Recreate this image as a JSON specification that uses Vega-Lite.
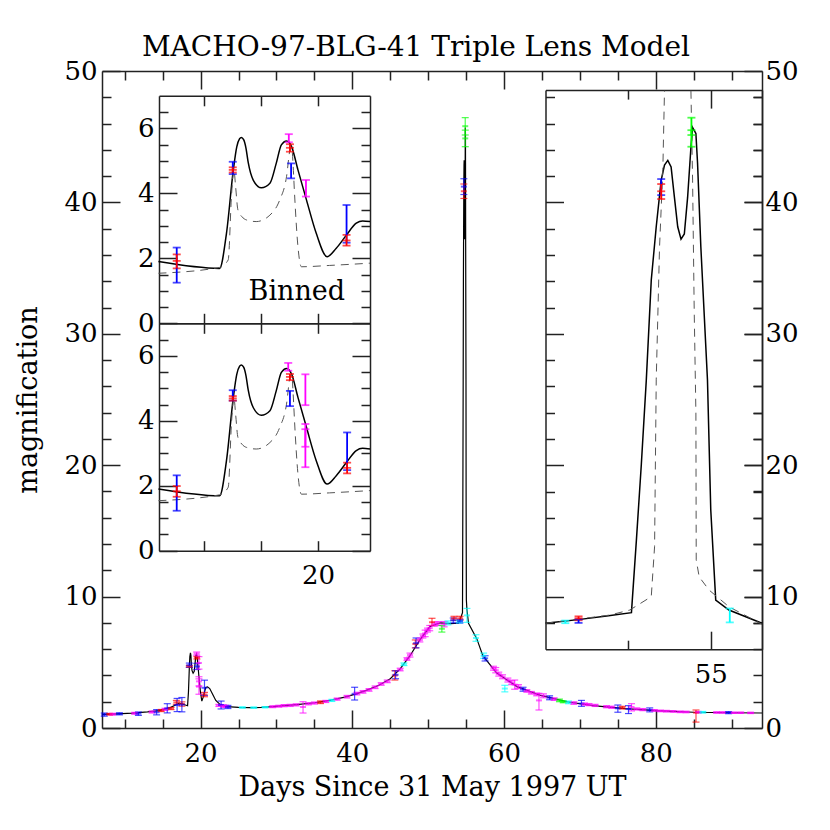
{
"$schema":"https://vega.github.io/schema/vega-lite/v6.json",
"width":660,"height":657,
"autosize":{"type":"none"},
"padding":{"left":102,"top":71,"right":68,"bottom":102},
"background":"white",
"title":{"text":"MACHO-97-BLG-41 Triple Lens Model","font":"DejaVu Serif","fontSize":28,"fontWeight":"normal","color":"#000","offset":-4,"dx":-16},
"config":{"view":{"stroke":null},"axis":{"labelFont":"DejaVu Serif","labelFontSize":26,"labelColor":"#000","titleFont":"DejaVu Serif","titleFontSize":27,"titleFontWeight":"normal","titleColor":"#000","domainColor":"#222","tickColor":"#222","domainWidth":1.5,"tickWidth":1.5,"grid":false,"labelOverlap":false,"labelFlush":false}},
"datasets":{
"model":[{"d":7,"m":1.03},{"d":9,"m":1.08},{"d":11,"m":1.13},{"d":13,"m":1.22},{"d":14.5,"m":1.32},{"d":16,"m":1.55},{"d":17.21,"m":1.9},{"d":18.28,"m":1.69},{"d":18.4,"m":2.77},{"d":18.52,"m":4.72},{"d":18.58,"m":5.43},{"d":18.66,"m":5.72},{"d":18.72,"m":5.54},{"d":18.78,"m":4.82},{"d":18.87,"m":4.36},{"d":19.01,"m":4.17},{"d":19.16,"m":4.31},{"d":19.27,"m":4.92},{"d":19.36,"m":5.49},{"d":19.45,"m":5.61},{"d":19.54,"m":5.43},{"d":19.65,"m":4.72},{"d":19.8,"m":3.79},{"d":19.97,"m":2.77},{"d":20.16,"m":2.05},{"d":20.32,"m":2.31},{"d":20.5,"m":2.72},{"d":20.67,"m":3.08},{"d":20.91,"m":3.13},{"d":21.2,"m":3.0},{"d":21.6,"m":2.55},{"d":22.0,"m":2.1},{"d":22.6,"m":1.78},{"d":23.5,"m":1.63},{"d":25,"m":1.57},{"d":26.5,"m":1.55},{"d":28,"m":1.57},{"d":29.5,"m":1.62},{"d":31,"m":1.7},{"d":33,"m":1.8},{"d":35,"m":1.92},{"d":37,"m":2.1},{"d":39,"m":2.35},{"d":40.5,"m":2.6},{"d":42,"m":2.9},{"d":43.5,"m":3.25},{"d":45,"m":3.75},{"d":46.3,"m":4.5},{"d":47.6,"m":5.5},{"d":48.9,"m":6.7},{"d":50.2,"m":7.7},{"d":51.0,"m":7.9},{"d":51.6,"m":8.0},{"d":52.9,"m":7.95},{"d":53.5,"m":7.96},{"d":54.0,"m":7.97},{"d":54.21,"m":8.27},{"d":54.37,"m":8.52},{"d":54.52,"m":8.78},{"d":54.55,"m":14.3},{"d":54.58,"m":20.1},{"d":54.61,"m":26.5},{"d":54.64,"m":34.1},{"d":54.67,"m":38.15},{"d":54.7,"m":41.7},{"d":54.72,"m":42.85},{"d":54.74,"m":43.2},{"d":54.76,"m":42.7},{"d":54.78,"m":40.4},{"d":54.8,"m":38.15},{"d":54.82,"m":37.2},{"d":54.84,"m":37.6},{"d":54.86,"m":40.4},{"d":54.88,"m":44.2},{"d":54.89,"m":45.7},{"d":54.91,"m":45.25},{"d":54.92,"m":43.0},{"d":54.94,"m":36.6},{"d":54.98,"m":26.5},{"d":55.0,"m":16.6},{"d":55.03,"m":9.74},{"d":55.11,"m":8.98},{"d":55.31,"m":7.97},{"d":56.4,"m":6.8},{"d":57.2,"m":5.5},{"d":59.0,"m":4.2},{"d":61.7,"m":3.15},{"d":64.7,"m":2.5},{"d":68.3,"m":2.0},{"d":71.7,"m":1.7},{"d":76,"m":1.47},{"d":80,"m":1.32},{"d":85,"m":1.2},{"d":90,"m":1.16},{"d":94,"m":1.14}],
"pts":[{"d":7.3,"m":1.02,"lo":0.9,"hi":1.14,"c":"blue"},{"d":8.0,"m":1.05,"lo":0.99,"hi":1.11,"c":"red"},{"d":8.4,"m":1.05,"lo":0.98,"hi":1.12,"c":"magenta"},{"d":9.3,"m":1.08,"lo":1.0,"hi":1.16,"c":"blue"},{"d":11.3,"m":1.12,"lo":1.05,"hi":1.19,"c":"magenta"},{"d":11.8,"m":1.09,"lo":0.96,"hi":1.22,"c":"blue"},{"d":13.6,"m":1.22,"lo":1.14,"hi":1.3,"c":"magenta"},{"d":14.2,"m":1.2,"lo":1.0,"hi":1.4,"c":"blue"},{"d":14.8,"m":1.33,"lo":1.25,"hi":1.41,"c":"red"},{"d":15.3,"m":1.42,"lo":1.34,"hi":1.5,"c":"magenta"},{"d":15.6,"m":1.5,"lo":1.15,"hi":1.85,"c":"blue"},{"d":16.1,"m":1.48,"lo":1.4,"hi":1.56,"c":"red"},{"d":16.8,"m":1.95,"lo":1.8,"hi":2.1,"c":"red"},{"d":16.9,"m":1.75,"lo":1.25,"hi":2.25,"c":"blue"},{"d":17.53,"m":1.83,"lo":1.66,"hi":1.99,"c":"red"},{"d":17.53,"m":1.78,"lo":1.23,"hi":2.32,"c":"blue"},{"d":18.51,"m":4.69,"lo":4.62,"hi":4.76,"c":"red"},{"d":18.51,"m":4.78,"lo":4.62,"hi":4.94,"c":"blue"},{"d":19.48,"m":5.66,"lo":5.54,"hi":5.78,"c":"magenta"},{"d":19.51,"m":5.35,"lo":5.25,"hi":5.44,"c":"red"},{"d":19.51,"m":4.68,"lo":4.45,"hi":4.92,"c":"blue"},{"d":19.78,"m":4.95,"lo":4.48,"hi":5.43,"c":"magenta"},{"d":19.78,"m":3.55,"lo":3.2,"hi":3.9,"c":"magenta"},{"d":19.78,"m":3.15,"lo":2.57,"hi":3.74,"c":"magenta"},{"d":20.51,"m":3.06,"lo":2.48,"hi":3.64,"c":"blue"},{"d":20.51,"m":2.55,"lo":2.38,"hi":2.71,"c":"red"},{"d":22.4,"m":1.72,"lo":1.64,"hi":1.8,"c":"magenta"},{"d":22.7,"m":1.75,"lo":1.45,"hi":2.05,"c":"blue"},{"d":23.0,"m":1.68,"lo":1.6,"hi":1.76,"c":"magenta"},{"d":23.3,"m":1.65,"lo":1.57,"hi":1.73,"c":"magenta"},{"d":23.6,"m":1.6,"lo":1.48,"hi":1.72,"c":"blue"},{"d":25.5,"m":1.56,"lo":1.52,"hi":1.6,"c":"cyan"},{"d":27.0,"m":1.55,"lo":1.51,"hi":1.59,"c":"cyan"},{"d":28.5,"m":1.58,"lo":1.54,"hi":1.62,"c":"cyan"},{"d":29.5,"m":1.62,"lo":1.55,"hi":1.69,"c":"magenta"},{"d":30.3,"m":1.66,"lo":1.59,"hi":1.73,"c":"magenta"},{"d":31.0,"m":1.7,"lo":1.62,"hi":1.78,"c":"magenta"},{"d":31.8,"m":1.72,"lo":1.64,"hi":1.8,"c":"magenta"},{"d":32.6,"m":1.76,"lo":1.68,"hi":1.84,"c":"magenta"},{"d":33.5,"m":1.6,"lo":1.14,"hi":2.0,"c":"magenta"},{"d":34.2,"m":1.84,"lo":1.76,"hi":1.92,"c":"magenta"},{"d":35.0,"m":1.9,"lo":1.82,"hi":1.98,"c":"magenta"},{"d":35.8,"m":1.96,"lo":1.86,"hi":2.06,"c":"red"},{"d":36.5,"m":2.02,"lo":1.94,"hi":2.1,"c":"magenta"},{"d":37.3,"m":2.1,"lo":2.02,"hi":2.18,"c":"cyan"},{"d":38.0,"m":2.2,"lo":2.12,"hi":2.28,"c":"magenta"},{"d":39.3,"m":2.38,"lo":2.28,"hi":2.48,"c":"magenta"},{"d":40.3,"m":2.6,"lo":2.13,"hi":3.1,"c":"blue"},{"d":40.6,"m":2.62,"lo":2.52,"hi":2.72,"c":"magenta"},{"d":41.4,"m":2.75,"lo":2.65,"hi":2.85,"c":"magenta"},{"d":42.2,"m":2.9,"lo":2.8,"hi":3.0,"c":"magenta"},{"d":43.0,"m":3.1,"lo":3.0,"hi":3.2,"c":"magenta"},{"d":43.8,"m":3.35,"lo":3.25,"hi":3.45,"c":"magenta"},{"d":44.6,"m":3.55,"lo":3.45,"hi":3.65,"c":"magenta"},{"d":45.6,"m":4.0,"lo":3.65,"hi":4.36,"c":"red"},{"d":45.7,"m":4.05,"lo":3.75,"hi":4.35,"c":"blue"},{"d":46.3,"m":4.45,"lo":4.35,"hi":4.55,"c":"magenta"},{"d":46.8,"m":4.85,"lo":4.75,"hi":4.95,"c":"cyan"},{"d":47.2,"m":5.25,"lo":5.15,"hi":5.35,"c":"magenta"},{"d":47.6,"m":5.55,"lo":5.4,"hi":5.7,"c":"magenta"},{"d":48.3,"m":6.4,"lo":6.1,"hi":6.7,"c":"red"},{"d":48.4,"m":6.45,"lo":6.1,"hi":6.85,"c":"blue"},{"d":48.9,"m":6.7,"lo":6.55,"hi":6.85,"c":"magenta"},{"d":49.3,"m":7.0,"lo":6.85,"hi":7.15,"c":"magenta"},{"d":49.6,"m":7.2,"lo":6.95,"hi":7.45,"c":"magenta"},{"d":49.9,"m":7.45,"lo":7.3,"hi":7.6,"c":"magenta"},{"d":50.2,"m":7.6,"lo":7.4,"hi":7.8,"c":"magenta"},{"d":50.5,"m":8.05,"lo":7.8,"hi":8.35,"c":"red"},{"d":50.8,"m":7.9,"lo":7.75,"hi":8.05,"c":"magenta"},{"d":51.3,"m":7.95,"lo":7.8,"hi":8.1,"c":"magenta"},{"d":51.8,"m":7.55,"lo":7.3,"hi":7.8,"c":"green"},{"d":52.1,"m":7.9,"lo":7.7,"hi":8.1,"c":"magenta"},{"d":52.6,"m":8.0,"lo":7.85,"hi":8.15,"c":"cyan"},{"d":53.3,"m":8.2,"lo":8.0,"hi":8.37,"c":"blue"},{"d":53.4,"m":8.35,"lo":8.2,"hi":8.5,"c":"red"},{"d":54.12,"m":8.08,"lo":7.98,"hi":8.18,"c":"cyan"},{"d":54.2,"m":8.35,"lo":8.2,"hi":8.5,"c":"red"},{"d":54.2,"m":8.13,"lo":8.0,"hi":8.27,"c":"blue"},{"d":54.7,"m":40.85,"lo":40.3,"hi":41.4,"c":"red"},{"d":54.7,"m":41.2,"lo":40.6,"hi":41.8,"c":"blue"},{"d":54.88,"m":45.8,"lo":45.13,"hi":46.45,"c":"green"},{"d":54.885,"m":44.87,"lo":44.24,"hi":45.5,"c":"green"},{"d":55.11,"m":8.57,"lo":8.04,"hi":9.1,"c":"cyan"},{"d":56.3,"m":6.85,"lo":6.6,"hi":7.1,"c":"cyan"},{"d":57.3,"m":5.5,"lo":5.3,"hi":5.7,"c":"cyan"},{"d":57.5,"m":5.3,"lo":5.1,"hi":5.5,"c":"blue"},{"d":58.6,"m":4.55,"lo":4.4,"hi":4.7,"c":"magenta"},{"d":58.9,"m":4.4,"lo":4.2,"hi":4.6,"c":"magenta"},{"d":59.3,"m":4.1,"lo":3.95,"hi":4.25,"c":"magenta"},{"d":59.8,"m":3.9,"lo":3.75,"hi":4.05,"c":"magenta"},{"d":60.1,"m":3.0,"lo":2.75,"hi":3.25,"c":"cyan"},{"d":60.5,"m":3.65,"lo":3.5,"hi":3.8,"c":"magenta"},{"d":61.0,"m":3.45,"lo":3.3,"hi":3.6,"c":"magenta"},{"d":61.4,"m":3.3,"lo":2.95,"hi":3.65,"c":"magenta"},{"d":61.9,"m":3.15,"lo":3.0,"hi":3.3,"c":"magenta"},{"d":62.5,"m":2.95,"lo":2.8,"hi":3.1,"c":"blue"},{"d":63.0,"m":2.82,"lo":2.72,"hi":2.92,"c":"magenta"},{"d":63.6,"m":2.68,"lo":2.58,"hi":2.78,"c":"magenta"},{"d":64.3,"m":2.55,"lo":2.45,"hi":2.65,"c":"magenta"},{"d":64.6,"m":2.1,"lo":1.37,"hi":2.64,"c":"magenta"},{"d":65.2,"m":2.45,"lo":2.3,"hi":2.6,"c":"magenta"},{"d":66.0,"m":2.3,"lo":2.15,"hi":2.45,"c":"blue"},{"d":66.6,"m":2.2,"lo":2.1,"hi":2.3,"c":"magenta"},{"d":67.3,"m":2.1,"lo":2.0,"hi":2.2,"c":"green"},{"d":67.8,"m":2.0,"lo":1.92,"hi":2.08,"c":"green"},{"d":68.5,"m":1.95,"lo":1.85,"hi":2.05,"c":"cyan"},{"d":69.2,"m":1.9,"lo":1.8,"hi":2.0,"c":"magenta"},{"d":70.2,"m":1.86,"lo":1.65,"hi":2.1,"c":"blue"},{"d":70.6,"m":1.82,"lo":1.74,"hi":1.9,"c":"magenta"},{"d":71.2,"m":1.78,"lo":1.7,"hi":1.86,"c":"magenta"},{"d":72.0,"m":1.72,"lo":1.64,"hi":1.8,"c":"magenta"},{"d":73.5,"m":1.62,"lo":1.54,"hi":1.7,"c":"magenta"},{"d":74.2,"m":1.58,"lo":1.5,"hi":1.66,"c":"magenta"},{"d":75.0,"m":1.5,"lo":1.2,"hi":1.75,"c":"blue"},{"d":75.6,"m":1.55,"lo":1.45,"hi":1.65,"c":"red"},{"d":76.4,"m":1.45,"lo":1.1,"hi":1.7,"c":"blue"},{"d":76.8,"m":1.6,"lo":1.3,"hi":1.85,"c":"magenta"},{"d":77.5,"m":1.45,"lo":1.37,"hi":1.53,"c":"magenta"},{"d":78.3,"m":1.4,"lo":1.32,"hi":1.48,"c":"magenta"},{"d":79.2,"m":1.38,"lo":1.23,"hi":1.53,"c":"blue"},{"d":79.8,"m":1.34,"lo":1.28,"hi":1.4,"c":"magenta"},{"d":80.6,"m":1.3,"lo":1.24,"hi":1.36,"c":"magenta"},{"d":81.4,"m":1.28,"lo":1.22,"hi":1.34,"c":"magenta"},{"d":82.3,"m":1.26,"lo":1.2,"hi":1.32,"c":"magenta"},{"d":83.2,"m":1.23,"lo":1.17,"hi":1.29,"c":"magenta"},{"d":84.0,"m":1.22,"lo":1.16,"hi":1.28,"c":"magenta"},{"d":85.3,"m":1.17,"lo":0.45,"hi":1.37,"c":"red"},{"d":85.6,"m":1.2,"lo":1.14,"hi":1.26,"c":"magenta"},{"d":86.2,"m":1.2,"lo":1.14,"hi":1.26,"c":"cyan"},{"d":88.0,"m":1.18,"lo":1.13,"hi":1.23,"c":"magenta"},{"d":88.8,"m":1.18,"lo":1.13,"hi":1.23,"c":"magenta"},{"d":89.6,"m":1.17,"lo":1.09,"hi":1.25,"c":"blue"},{"d":90.3,"m":1.16,"lo":1.11,"hi":1.21,"c":"magenta"},{"d":91.2,"m":1.16,"lo":1.11,"hi":1.21,"c":"magenta"},{"d":92.5,"m":1.15,"lo":1.1,"hi":1.2,"c":"magenta"}],
"zA":[{"d":17.21,"m":1.9,"s":"solid"},{"d":18.28,"m":1.69,"s":"solid"},{"d":18.4,"m":2.77,"s":"solid"},{"d":18.52,"m":4.72,"s":"solid"},{"d":18.58,"m":5.43,"s":"solid"},{"d":18.63,"m":5.68,"s":"solid"},{"d":18.66,"m":5.72,"s":"solid"},{"d":18.7,"m":5.65,"s":"solid"},{"d":18.74,"m":5.4,"s":"solid"},{"d":18.78,"m":4.95,"s":"solid"},{"d":18.87,"m":4.4,"s":"solid"},{"d":19.01,"m":4.17,"s":"solid"},{"d":19.16,"m":4.31,"s":"solid"},{"d":19.27,"m":4.92,"s":"solid"},{"d":19.36,"m":5.49,"s":"solid"},{"d":19.45,"m":5.61,"s":"solid"},{"d":19.54,"m":5.43,"s":"solid"},{"d":19.65,"m":4.72,"s":"solid"},{"d":19.8,"m":3.79,"s":"solid"},{"d":19.97,"m":2.77,"s":"solid"},{"d":20.16,"m":2.05,"s":"solid"},{"d":20.32,"m":2.31,"s":"solid"},{"d":20.5,"m":2.72,"s":"solid"},{"d":20.67,"m":3.08,"s":"solid"},{"d":20.78,"m":3.15,"s":"solid"},{"d":20.91,"m":3.13,"s":"solid"},
{"d":17.21,"m":1.54,"s":"dashed"},{"d":18.28,"m":1.72,"s":"dashed"},{"d":18.43,"m":1.95,"s":"dashed"},{"d":18.49,"m":4.0,"s":"dashed"},{"d":18.53,"m":4.72,"s":"dashed"},{"d":18.56,"m":4.2,"s":"dashed"},{"d":18.6,"m":3.49,"s":"dashed"},{"d":18.67,"m":3.28,"s":"dashed"},{"d":18.75,"m":3.18,"s":"dashed"},{"d":18.92,"m":3.13,"s":"dashed"},{"d":19.16,"m":3.33,"s":"dashed"},{"d":19.33,"m":3.79,"s":"dashed"},{"d":19.45,"m":4.51,"s":"dashed"},{"d":19.51,"m":5.33,"s":"dashed"},{"d":19.54,"m":5.43,"s":"dashed"},{"d":19.57,"m":4.7,"s":"dashed"},{"d":19.59,"m":4.0,"s":"dashed"},{"d":19.65,"m":2.36,"s":"dashed"},{"d":19.71,"m":1.74,"s":"dashed"},{"d":20.2,"m":1.78,"s":"dashed"},{"d":20.91,"m":1.85,"s":"dashed"}],
"bin":[{"d":17.53,"m":1.8,"lo":1.25,"hi":2.33,"c":"blue"},{"d":17.53,"m":1.92,"lo":1.69,"hi":2.12,"c":"red"},{"d":18.51,"m":4.78,"lo":4.59,"hi":4.97,"c":"blue"},{"d":18.51,"m":4.72,"lo":4.64,"hi":4.8,"c":"red"},{"d":19.49,"m":5.7,"lo":5.57,"hi":5.82,"c":"magenta"},{"d":19.51,"m":5.4,"lo":5.28,"hi":5.51,"c":"red"},{"d":19.53,"m":4.69,"lo":4.46,"hi":4.92,"c":"blue"},{"d":19.79,"m":4.15,"lo":3.9,"hi":4.41,"c":"magenta"},{"d":20.5,"m":3.06,"lo":2.48,"hi":3.64,"c":"blue"},{"d":20.5,"m":2.55,"lo":2.39,"hi":2.72,"c":"red"}],
"unb":[{"d":17.53,"m":1.78,"lo":1.23,"hi":2.32,"c":"blue"},{"d":17.53,"m":1.83,"lo":1.66,"hi":1.99,"c":"red"},{"d":18.51,"m":4.78,"lo":4.62,"hi":4.94,"c":"blue"},{"d":18.51,"m":4.69,"lo":4.62,"hi":4.76,"c":"red"},{"d":19.48,"m":5.66,"lo":5.54,"hi":5.78,"c":"magenta"},{"d":19.51,"m":5.35,"lo":5.25,"hi":5.44,"c":"red"},{"d":19.51,"m":4.68,"lo":4.45,"hi":4.92,"c":"blue"},{"d":19.78,"m":4.95,"lo":4.48,"hi":5.43,"c":"magenta"},{"d":19.78,"m":3.55,"lo":3.2,"hi":3.9,"c":"magenta"},{"d":19.78,"m":3.15,"lo":2.57,"hi":3.74,"c":"magenta"},{"d":20.51,"m":3.06,"lo":2.48,"hi":3.64,"c":"blue"},{"d":20.51,"m":2.55,"lo":2.38,"hi":2.71,"c":"red"}],
"zB":[{"d":54.0,"m":7.97,"s":"solid","g":1},{"d":54.21,"m":8.27,"s":"solid","g":1},{"d":54.37,"m":8.52,"s":"solid","g":1},{"d":54.52,"m":8.78,"s":"solid","g":1},{"d":54.55,"m":14.3,"s":"solid","g":1},{"d":54.58,"m":20.1,"s":"solid","g":1},{"d":54.61,"m":26.5,"s":"solid","g":1},{"d":54.64,"m":34.1,"s":"solid","g":1},{"d":54.67,"m":38.15,"s":"solid","g":1},{"d":54.7,"m":41.7,"s":"solid","g":1},{"d":54.72,"m":42.85,"s":"solid","g":1},{"d":54.74,"m":43.2,"s":"solid","g":1},{"d":54.76,"m":42.7,"s":"solid","g":1},{"d":54.78,"m":40.4,"s":"solid","g":1},{"d":54.8,"m":38.15,"s":"solid","g":1},{"d":54.82,"m":37.2,"s":"solid","g":1},{"d":54.84,"m":37.6,"s":"solid","g":1},{"d":54.86,"m":40.4,"s":"solid","g":1},{"d":54.88,"m":44.2,"s":"solid","g":1},{"d":54.89,"m":45.7,"s":"solid","g":1},{"d":54.91,"m":45.25,"s":"solid","g":1},{"d":54.92,"m":43.0,"s":"solid","g":1},{"d":54.94,"m":36.6,"s":"solid","g":1},{"d":54.98,"m":26.5,"s":"solid","g":1},{"d":55.0,"m":16.6,"s":"solid","g":1},{"d":55.03,"m":9.74,"s":"solid","g":1},{"d":55.11,"m":8.98,"s":"solid","g":1},{"d":55.31,"m":7.97,"s":"solid","g":1},
{"d":54.0,"m":7.97,"s":"dashed","g":2},{"d":54.39,"m":8.6,"s":"dashed","g":2},{"d":54.51,"m":8.98,"s":"dashed","g":2},{"d":54.64,"m":10.0,"s":"dashed","g":2},{"d":54.66,"m":13.8,"s":"dashed","g":2},{"d":54.67,"m":26.5,"s":"dashed","g":2},{"d":54.69,"m":36.6,"s":"dashed","g":2},{"d":54.71,"m":42.5,"s":"dashed","g":2},{"d":54.72,"m":48.5,"s":"dashed","g":2},
{"d":54.88,"m":48.5,"s":"dashed","g":3},{"d":54.89,"m":41.7,"s":"dashed","g":3},{"d":54.9,"m":31.6,"s":"dashed","g":3},{"d":54.91,"m":24,"s":"dashed","g":3},{"d":54.912,"m":12.8,"s":"dashed","g":3},{"d":54.93,"m":11.5,"s":"dashed","g":3},{"d":54.99,"m":10.5,"s":"dashed","g":3},{"d":55.11,"m":9.23,"s":"dashed","g":3},{"d":55.31,"m":7.9,"s":"dashed","g":3}],
"pk":[{"d":54.12,"m":8.08,"lo":7.98,"hi":8.18,"c":"cyan"},{"d":54.2,"m":8.35,"lo":8.2,"hi":8.5,"c":"red"},{"d":54.2,"m":8.13,"lo":8.0,"hi":8.27,"c":"blue"},{"d":54.7,"m":41.2,"lo":40.56,"hi":41.78,"c":"blue"},{"d":54.7,"m":40.85,"lo":40.26,"hi":41.4,"c":"red"},{"d":54.883,"m":45.8,"lo":45.13,"hi":46.45,"c":"green"},{"d":54.883,"m":44.87,"lo":44.24,"hi":45.5,"c":"green"},{"d":55.115,"m":8.57,"lo":8.04,"hi":9.1,"c":"cyan"}]
},
"layer":[
{"layer":[
 {"data":{"name":"model"},"mark":{"type":"line","color":"#000","strokeWidth":1.2},
  "encoding":{"x":{"field":"d","type":"quantitative","scale":{"domain":[7,94],"nice":false,"zero":false},"axis":{"orient":"bottom","values":[20,40,60,80],"tickSize":-18,"labelPadding":30,"title":"Days Since 31 May 1997 UT","titlePadding":8}},
  "y":{"field":"m","type":"quantitative","scale":{"domain":[0,50],"nice":false,"zero":false},"axis":{"orient":"left","values":[0,10,20,30,40,50],"tickSize":-18,"labelPadding":23,"title":"magnification","titlePadding":21}}}},
 {"data":{"name":"pts"},"mark":{"type":"errorbar","ticks":{"size":7,"thickness":1.2},"thickness":1.2,"opacity":0.7},
  "encoding":{"x":{"field":"d","type":"quantitative","scale":{"domain":[7,94],"nice":false,"zero":false},"axis":null},"y":{"field":"lo","type":"quantitative","scale":{"domain":[0,50],"nice":false,"zero":false},"axis":null},"y2":{"field":"hi"},"color":{"field":"c","type":"nominal","scale":{"domain":["magenta","red","blue","cyan","green"],"range":["#ff00ff","#ff0000","#0000ff","#00ffff","#00ff00"]},"legend":null}}},
 {"data":{"name":"pts"},"mark":{"type":"tick","orient":"horizontal","size":6,"thickness":2,"opacity":0.6},
  "encoding":{"x":{"field":"d","type":"quantitative","scale":{"domain":[7,94],"nice":false,"zero":false},"axis":{"orient":"top","values":[20,40,60,80],"tickSize":-18,"labels":false,"title":null}},
  "y":{"field":"m","type":"quantitative","scale":{"domain":[0,50],"nice":false,"zero":false},"axis":{"orient":"right","values":[0,10,20,30,40,50],"tickSize":-18,"labelPadding":21,"title":null}},"color":{"field":"c","type":"nominal","scale":{"domain":["magenta","red","blue","cyan","green"],"range":["#ff00ff","#ff0000","#0000ff","#00ffff","#00ff00"]},"legend":null}}},
 {"data":{"name":"pts"},"mark":{"type":"point","opacity":0},
  "encoding":{"x":{"field":"d","type":"quantitative","scale":{"domain":[7,94],"nice":false,"zero":false},"axis":{"orient":"bottom","values":[10,15,25,30,35,45,50,55,65,70,75,85,90],"tickSize":-9,"labels":false,"domain":false,"title":null}},
  "y":{"field":"m","type":"quantitative","scale":{"domain":[0,50],"nice":false,"zero":false},"axis":{"orient":"left","values":[2,4,6,8,12,14,16,18,22,24,26,28,32,34,36,38,42,44,46,48],"tickSize":-9,"labels":false,"domain":false,"title":null}}}},
 {"data":{"name":"pts"},"mark":{"type":"point","opacity":0},
  "encoding":{"x":{"field":"d","type":"quantitative","scale":{"domain":[7,94],"nice":false,"zero":false},"axis":{"orient":"top","values":[10,15,25,30,35,45,50,55,65,70,75,85,90],"tickSize":-9,"labels":false,"domain":false,"title":null}},
  "y":{"field":"m","type":"quantitative","scale":{"domain":[0,50],"nice":false,"zero":false},"axis":{"orient":"right","values":[2,4,6,8,12,14,16,18,22,24,26,28,32,34,36,38,42,44,46,48],"tickSize":-9,"labels":false,"domain":false,"title":null}}}}
],"resolve":{"axis":{"x":"independent","y":"independent"}}},
{"layer":[
 {"data":{"name":"zA"},"transform":[{"filter":"datum.s=='solid'"}],"mark":{"type":"line","color":"#000","strokeWidth":1.5,"interpolate":"monotone"},
  "encoding":{"x":{"field":"d","type":"quantitative","scale":{"domain":[17.22,20.91],"range":[57,268],"nice":false,"zero":false},"axis":{"orient":"bottom","values":[18,19,20],"tickSize":-10,"labels":false,"title":null,"offset":-404.7}},
  "y":{"field":"m","type":"quantitative","scale":{"domain":[0,7],"range":[252.3,24.8],"nice":false,"zero":false},"axis":{"orient":"left","values":[0,2,4,6],"tickSize":-18,"labelPadding":23,"title":null,"offset":-57}}}},
 {"data":{"name":"zA"},"transform":[{"filter":"datum.s=='dashed'"}],"mark":{"type":"line","color":"#555","strokeWidth":1,"strokeDash":[8,6],"interpolate":"monotone"},
  "encoding":{"x":{"field":"d","type":"quantitative","scale":{"domain":[17.22,20.91],"range":[57,268],"nice":false,"zero":false},"axis":{"orient":"top","values":[18,19,20],"tickSize":-10,"labels":false,"title":null,"offset":-24.8}},
  "y":{"field":"m","type":"quantitative","scale":{"domain":[0,7],"range":[252.3,24.8],"nice":false,"zero":false},"axis":{"orient":"right","values":[0,2,4,6],"tickSize":-18,"labels":false,"title":null,"offset":-392}}}},
 {"data":{"name":"bin"},"mark":{"type":"errorbar","ticks":{"size":8,"thickness":1.8},"thickness":1.8},
  "encoding":{"x":{"field":"d","type":"quantitative","scale":{"domain":[17.22,20.91],"range":[57,268],"nice":false,"zero":false},"axis":null},"y":{"field":"lo","type":"quantitative","scale":{"domain":[0,7],"range":[252.3,24.8],"nice":false,"zero":false},"axis":null},"y2":{"field":"hi"},"color":{"field":"c","type":"nominal","scale":{"domain":["magenta","red","blue","cyan","green"],"range":["#ff00ff","#ff0000","#0000ff","#00ffff","#00ff00"]},"legend":null}}},
 {"data":{"name":"bin"},"transform":[{"filter":"datum.c=='red'"}],"mark":{"type":"tick","orient":"horizontal","size":8,"thickness":1.8,"color":"#ff0000"},
  "encoding":{"x":{"field":"d","type":"quantitative","scale":{"domain":[17.22,20.91],"range":[57,268],"nice":false,"zero":false},"axis":null},
  "y":{"field":"m","type":"quantitative","scale":{"domain":[0,7],"range":[252.3,24.8],"nice":false,"zero":false},"axis":{"orient":"left","values":[0.5,1,1.5,2.5,3,3.5,4.5,5,5.5,6.5],"tickSize":-9,"labels":false,"domain":false,"title":null,"offset":-57}}}},
 {"data":{"name":"bin"},"mark":{"type":"point","opacity":0},
  "encoding":{"x":{"field":"d","type":"quantitative","scale":{"domain":[17.22,20.91],"range":[57,268],"nice":false,"zero":false},"axis":null},
  "y":{"field":"m","type":"quantitative","scale":{"domain":[0,7],"range":[252.3,24.8],"nice":false,"zero":false},"axis":{"orient":"right","values":[0.5,1,1.5,2.5,3,3.5,4.5,5,5.5,6.5],"tickSize":-9,"labels":false,"domain":false,"title":null,"offset":-392}}}},
 {"data":{"values":[{"t":"Binned"}]},"mark":{"type":"text","font":"DejaVu Serif","fontSize":27,"align":"center","baseline":"alphabetic","color":"#000"},
  "encoding":{"x":{"datum":19.63,"type":"quantitative","scale":{"domain":[17.22,20.91],"range":[57,268],"nice":false,"zero":false},"axis":null},"y":{"datum":0.72,"type":"quantitative","scale":{"domain":[0,7],"range":[252.3,24.8],"nice":false,"zero":false},"axis":null},"text":{"field":"t"}}}
],"resolve":{"axis":{"x":"independent","y":"independent"}}},
{"layer":[
 {"data":{"name":"zA"},"transform":[{"filter":"datum.s=='solid'"}],"mark":{"type":"line","color":"#000","strokeWidth":1.5,"interpolate":"monotone"},
  "encoding":{"x":{"field":"d","type":"quantitative","scale":{"domain":[17.22,20.91],"range":[57,268],"nice":false,"zero":false},"axis":{"orient":"bottom","values":[18,19,20],"tickSize":-10,"labelPadding":22,"labelExpr":"datum.value == 20 ? '20' : ''","title":null,"offset":-177.3}},
  "y":{"field":"m","type":"quantitative","scale":{"domain":[0,7],"range":[479.7,252.3],"nice":false,"zero":false},"axis":{"orient":"left","values":[0,2,4,6],"tickSize":-18,"labelPadding":23,"title":null,"offset":-57}}}},
 {"data":{"name":"zA"},"transform":[{"filter":"datum.s=='dashed'"}],"mark":{"type":"line","color":"#555","strokeWidth":1,"strokeDash":[8,6],"interpolate":"monotone"},
  "encoding":{"x":{"field":"d","type":"quantitative","scale":{"domain":[17.22,20.91],"range":[57,268],"nice":false,"zero":false},"axis":{"orient":"top","values":[18,19,20],"tickSize":-10,"labels":false,"title":null,"offset":-252.3}},
  "y":{"field":"m","type":"quantitative","scale":{"domain":[0,7],"range":[479.7,252.3],"nice":false,"zero":false},"axis":{"orient":"right","values":[0,2,4,6],"tickSize":-18,"labels":false,"title":null,"offset":-392}}}},
 {"data":{"name":"unb"},"mark":{"type":"errorbar","ticks":{"size":8,"thickness":1.8},"thickness":1.8},
  "encoding":{"x":{"field":"d","type":"quantitative","scale":{"domain":[17.22,20.91],"range":[57,268],"nice":false,"zero":false},"axis":null},"y":{"field":"lo","type":"quantitative","scale":{"domain":[0,7],"range":[479.7,252.3],"nice":false,"zero":false},"axis":null},"y2":{"field":"hi"},"color":{"field":"c","type":"nominal","scale":{"domain":["magenta","red","blue","cyan","green"],"range":["#ff00ff","#ff0000","#0000ff","#00ffff","#00ff00"]},"legend":null}}},
 {"data":{"name":"unb"},"transform":[{"filter":"datum.c=='red'"}],"mark":{"type":"tick","orient":"horizontal","size":8,"thickness":1.8,"color":"#ff0000"},
  "encoding":{"x":{"field":"d","type":"quantitative","scale":{"domain":[17.22,20.91],"range":[57,268],"nice":false,"zero":false},"axis":null},
  "y":{"field":"m","type":"quantitative","scale":{"domain":[0,7],"range":[479.7,252.3],"nice":false,"zero":false},"axis":{"orient":"left","values":[0.5,1,1.5,2.5,3,3.5,4.5,5,5.5,6.5],"tickSize":-9,"labels":false,"domain":false,"title":null,"offset":-57}}}},
 {"data":{"name":"unb"},"mark":{"type":"point","opacity":0},
  "encoding":{"x":{"field":"d","type":"quantitative","scale":{"domain":[17.22,20.91],"range":[57,268],"nice":false,"zero":false},"axis":null},
  "y":{"field":"m","type":"quantitative","scale":{"domain":[0,7],"range":[479.7,252.3],"nice":false,"zero":false},"axis":{"orient":"right","values":[0.5,1,1.5,2.5,3,3.5,4.5,5,5.5,6.5],"tickSize":-9,"labels":false,"domain":false,"title":null,"offset":-392}}}}
],"resolve":{"axis":{"x":"independent","y":"independent"}}},
{"layer":[
 {"data":{"name":"zB"},"transform":[{"filter":"datum.s=='solid'"}],"mark":{"type":"line","color":"#000","strokeWidth":1.5},
  "encoding":{"x":{"field":"d","type":"quantitative","scale":{"domain":[54.0,55.31],"range":[443.5,660],"nice":false,"zero":false},"axis":{"orient":"bottom","values":[55],"tickSize":-18,"labelPadding":30,"title":null,"offset":-78.8}},
  "y":{"field":"m","type":"quantitative","scale":{"domain":[6,48.55],"range":[578.2,19.1],"nice":false,"zero":false},"axis":{"orient":"left","values":[10,20,30,40],"tickSize":-18,"labels":false,"title":null,"offset":-443.5}}}},
 {"data":{"name":"zB"},"transform":[{"filter":"datum.s=='dashed'"}],"mark":{"type":"line","color":"#555","strokeWidth":1,"strokeDash":[8,6]},
  "encoding":{"x":{"field":"d","type":"quantitative","scale":{"domain":[54.0,55.31],"range":[443.5,660],"nice":false,"zero":false},"axis":{"orient":"top","values":[55],"tickSize":-18,"labels":false,"title":null,"offset":-19.1}},
  "y":{"field":"m","type":"quantitative","scale":{"domain":[6,48.55],"range":[578.2,19.1],"nice":false,"zero":false},"axis":{"orient":"right","values":[10,20,30,40],"tickSize":-18,"labels":false,"title":null}},"detail":{"field":"g","type":"nominal"}}},
 {"data":{"name":"pk"},"mark":{"type":"errorbar","ticks":{"size":8,"thickness":1.8},"thickness":1.8},
  "encoding":{"x":{"field":"d","type":"quantitative","scale":{"domain":[54.0,55.31],"range":[443.5,660],"nice":false,"zero":false},"axis":null},"y":{"field":"lo","type":"quantitative","scale":{"domain":[6,48.55],"range":[578.2,19.1],"nice":false,"zero":false},"axis":null},"y2":{"field":"hi"},"color":{"field":"c","type":"nominal","scale":{"domain":["magenta","red","blue","cyan","green"],"range":["#ff00ff","#ff0000","#0000ff","#00ffff","#00ff00"]},"legend":null}}},
 {"data":{"name":"pk"},"transform":[{"filter":"datum.c=='red'"}],"mark":{"type":"tick","orient":"horizontal","size":8,"thickness":1.8,"color":"#ff0000"},
  "encoding":{"x":{"field":"d","type":"quantitative","scale":{"domain":[54.0,55.31],"range":[443.5,660],"nice":false,"zero":false},"axis":{"orient":"bottom","values":[54.5],"tickSize":-9,"labels":false,"domain":false,"title":null,"offset":-78.8}},
  "y":{"field":"m","type":"quantitative","scale":{"domain":[6,48.55],"range":[578.2,19.1],"nice":false,"zero":false},"axis":{"orient":"left","values":[8,12,14,16,18,22,24,26,28,32,34,36,38,42,44,46,48],"tickSize":-9,"labels":false,"domain":false,"title":null,"offset":-443.5}}}},
 {"data":{"name":"pk"},"mark":{"type":"point","opacity":0},
  "encoding":{"x":{"field":"d","type":"quantitative","scale":{"domain":[54.0,55.31],"range":[443.5,660],"nice":false,"zero":false},"axis":{"orient":"top","values":[54.5],"tickSize":-9,"labels":false,"domain":false,"title":null,"offset":-19.1}},
  "y":{"field":"m","type":"quantitative","scale":{"domain":[6,48.55],"range":[578.2,19.1],"nice":false,"zero":false},"axis":{"orient":"right","values":[8,12,14,16,18,22,24,26,28,32,34,36,38,42,44,46,48],"tickSize":-9,"labels":false,"domain":false,"title":null}}}}
],"resolve":{"axis":{"x":"independent","y":"independent"}}}
],
"resolve":{"scale":{"x":"independent","y":"independent"},"axis":{"x":"independent","y":"independent"}}
}
